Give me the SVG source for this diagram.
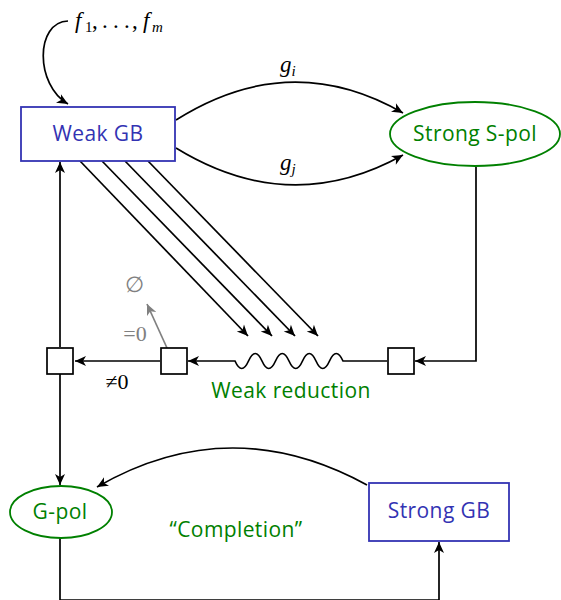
<svg xmlns="http://www.w3.org/2000/svg" width="561" height="600" viewBox="0 0 561 600">
<style>
.e{fill:none;stroke:#000;stroke-width:1.7}
.g{fill:none;stroke:#808080;stroke-width:1.7}
.box{fill:#fff;stroke:#3333b3;stroke-width:1.8}
.ell{fill:#fff;stroke:#008000;stroke-width:1.8}
.sq{fill:#fff;stroke:#000;stroke-width:1.7}
.bt{font-family:"Open Sans",Lato,sans-serif;font-size:21px;letter-spacing:0.4px;fill:#3333b3;text-anchor:middle}
.gt{font-family:"Open Sans",Lato,sans-serif;font-size:21px;letter-spacing:0.4px;fill:#008000;text-anchor:middle}
.m{font-family:"Liberation Serif",serif;font-size:23px;font-style:italic}
.r{font-family:"Liberation Serif",serif;font-size:22px}
</style>
<defs>
<marker id="a" markerUnits="userSpaceOnUse" markerWidth="13" markerHeight="11" viewBox="0 -5.5 12 11" refX="11" refY="0" orient="auto">
<path d="M0,-5 L11,0 L0,5 L3,0 z" fill="#000"/>
</marker>
<marker id="ag" markerUnits="userSpaceOnUse" markerWidth="13" markerHeight="11" viewBox="0 -5.5 12 11" refX="11" refY="0" orient="auto">
<path d="M0,-5 L11,0 L0,5 L3,0 z" fill="#808080"/>
</marker>
</defs>
<g id="connectors">
<path class="e" d="M68,21 C35,22 35,85 68,104" marker-end="url(#a)"/>
<path class="e" d="M176,120 Q290,48 403,113" marker-end="url(#a)"/>
<path class="e" d="M176,148 Q290,218 403,155" marker-end="url(#a)"/>
<path class="e" d="M80,161 L248,336" marker-end="url(#a)"/>
<path class="e" d="M102,161 L272,336" marker-end="url(#a)"/>
<path class="e" d="M125,161 L295,336" marker-end="url(#a)"/>
<path class="e" d="M148,161 L318,336" marker-end="url(#a)"/>
<path class="e" d="M476,167 V361 H415" marker-end="url(#a)"/>
<path class="e" d="M387,361 H343 q-6.75,-15 -13.5,0 t-13.5,0 t-13.5,0 t-13.5,0 t-13.5,0 t-13.5,0 t-13.5,0 t-13.5,0 H188" marker-end="url(#a)"/>
<path class="e" d="M160,361 H75" marker-end="url(#a)"/>
<path class="g" d="M167,348 L147,304" marker-end="url(#ag)"/>
<path class="e" d="M60,347 V162" marker-end="url(#a)"/>
<path class="e" d="M60,374 V485" marker-end="url(#a)"/>
<path class="e" d="M367,485 Q230,410 97,487" marker-end="url(#a)"/>
<path class="e" d="M60,538 V600 H439 V542" marker-end="url(#a)"/>
</g>
<g id="weak-gb">
<rect class="box" x="21" y="107" width="154" height="54"/>
<text class="bt" x="98" y="141">Weak GB</text>
</g>
<g id="strong-spol">
<ellipse class="ell" cx="475" cy="134" rx="85" ry="32"/>
<text class="gt" x="475" y="141">Strong S-pol</text>
</g>
<g id="sq1"><rect class="sq" x="47" y="348" width="26" height="26"/></g>
<g id="sq2"><rect class="sq" x="161" y="348" width="26" height="26"/></g>
<g id="sq3"><rect class="sq" x="388" y="348" width="26" height="26"/></g>
<g id="g-pol">
<ellipse class="ell" cx="61" cy="512" rx="51" ry="26"/>
<text class="gt" x="60" y="519">G-pol</text>
</g>
<g id="strong-gb">
<rect class="box" x="369" y="483" width="140" height="58"/>
<text class="bt" x="439" y="518">Strong GB</text>
</g>
<g id="labels">
<text class="m" y="28"><tspan x="75">f</tspan><tspan x="85" dy="4" font-size="15" font-style="normal">1</tspan><tspan x="92" dy="-4" font-style="normal">,</tspan><tspan x="102 113 124" font-style="normal">...</tspan><tspan x="132" font-style="normal">,</tspan><tspan x="143">f</tspan><tspan x="152" dy="4" font-size="15">m</tspan></text>
<text class="m" x="280" y="72">g<tspan font-size="15" dy="4">i</tspan></text>
<text class="m" x="280" y="170">g<tspan font-size="15" dy="4">j</tspan></text>
<text class="r" x="134" y="292" fill="#808080" text-anchor="middle">∅</text>
<text class="r" x="135" y="341" fill="#808080" text-anchor="middle">=0</text>
<text class="r" x="117" y="389" text-anchor="middle">≠0</text>
<text class="gt" x="291" y="398">Weak reduction</text>
<text class="gt" x="236" y="537">“Completion”</text>
</g>
</svg>
